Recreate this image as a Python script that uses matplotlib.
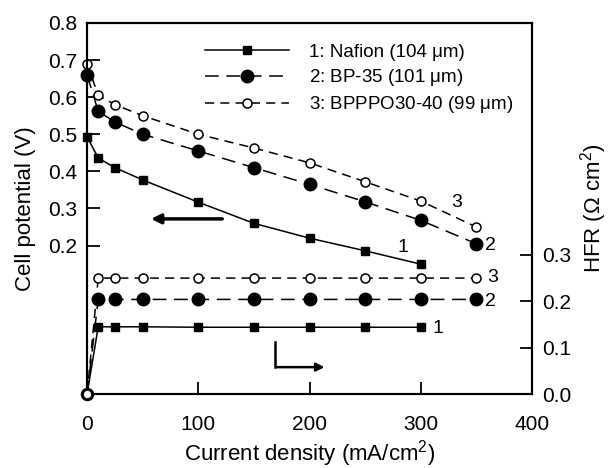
import numpy as np
import matplotlib.pyplot as plt

plt.rcParams['font.family'] = ['Liberation Sans', 'DejaVu Sans']
plt.rcParams['mathtext.fontset'] = 'custom'
plt.rcParams['mathtext.it'] = 'Liberation Sans:italic'
plt.rcParams['mathtext.rm'] = 'Liberation Sans'

# polarisation curves (left axis)
j_naf = [0, 10, 25, 50, 100, 150, 200, 250, 300]
v_naf = [0.493, 0.436, 0.41, 0.377, 0.317, 0.26, 0.22, 0.186, 0.15]
j_bp = [0, 10, 25, 50, 100, 150, 200, 250, 300, 350]
v_bp = [0.66, 0.562, 0.533, 0.50, 0.455, 0.41, 0.365, 0.318, 0.268, 0.205]
j_bppo = [0, 10, 25, 50, 100, 150, 200, 250, 300, 350]
v_bppo = [0.69, 0.605, 0.58, 0.55, 0.50, 0.463, 0.423, 0.372, 0.32, 0.25]

# high frequency resistance (right axis)
hfr_naf = [0.0, 0.145, 0.145, 0.145, 0.144, 0.144, 0.144, 0.144, 0.144]
hfr_bp = [0.0, 0.204, 0.204, 0.204, 0.204, 0.204, 0.204, 0.204, 0.204, 0.204]
hfr_bppo = [0.0, 0.25, 0.25, 0.25, 0.25, 0.25, 0.25, 0.25, 0.25, 0.25]

labels = ['1: Nafion (104 \u03bcm)',
          '2: BP-$\\mathit{35}$ (101 \u03bcm)',
          '3: BPPPO$\\mathit{30}$-$\\mathit{40}$ (99 \u03bcm)']

fig = plt.figure(figsize=(6.09, 4.68), dpi=100)
ax = fig.add_axes([0.143, 0.158, 0.7306, 0.793])
ax2 = ax.twinx()

lw = 1.1
s1 = dict(color='black', lw=lw, ls='-', marker='s', ms=6, mfc='black', mec='black', clip_on=False)
s2 = dict(color='black', lw=lw, ls=(0, (9, 5)), marker='o', ms=9, mfc='black', mec='black', clip_on=False)
s3 = dict(color='black', lw=lw, ls=(0, (6, 4)), marker='o', ms=6.5, mfc='white', mec='black', mew=1.1,
          clip_on=False)

h1, = ax.plot(j_naf, v_naf, zorder=5, **s1)
h2, = ax.plot(j_bp, v_bp, zorder=5, **s2)
h3, = ax.plot(j_bppo, v_bppo, zorder=5, **s3)

ax2.plot(j_naf, hfr_naf, markevery=list(range(1, len(j_naf))), zorder=5, **s1)
ax2.plot(j_bp, hfr_bp, markevery=list(range(1, len(j_bp))), zorder=5, **s2)
ax2.plot(j_bppo, hfr_bppo, markevery=list(range(1, len(j_bppo))), zorder=5, **s3)
# common origin of the HFR curves
ax2.plot(j_bppo[:1], hfr_bppo[:1], ls='none', marker='o', ms=7.5, mfc='white', mec='black',
         mew=2.2, clip_on=False, zorder=6)

ax.set_xlim(0, 400)
ax.set_ylim(-0.2, 0.8)
ax2.set_ylim(0, 0.8)
ax.set_xticks([0, 100, 200, 300, 400])
ax.set_yticks([0.2, 0.3, 0.4, 0.5, 0.6, 0.7, 0.8])
ax2.set_yticks([0.0, 0.1, 0.2, 0.3])
ax.set_yticklabels(['0.2', '0.3', '0.4', '0.5', '0.6', '0.7', '0.8'])
ax2.set_yticklabels(['0.0', '0.1', '0.2', '0.3'])

for a in (ax, ax2):
    a.tick_params(direction='in', length=9, width=1.3, labelsize=15, pad=7)
    for sp in a.spines.values():
        sp.set_linewidth(1.5)
ax.tick_params(axis='x', pad=15)

ax.set_xlabel('Current density (mA/cm$^2$)', fontsize=16, labelpad=3)
ax.set_ylabel('Cell potential (V)', fontsize=16, labelpad=9)
ax2.set_ylabel('HFR (\u03a9 cm$^2$)', fontsize=16, labelpad=5, rotation=90)

ax.legend([h1, h2, h3], labels, loc='upper left', bbox_to_anchor=(0.248, 0.964),
          frameon=False, fontsize=13.5, handlelength=4.5, handletextpad=1.05,
          labelspacing=0.33, borderaxespad=0)

# curve numbers
ax.text(284, 0.196, '1', fontsize=14, ha='center', va='center')
ax.text(363, 0.199, '2', fontsize=14, ha='center', va='center')
ax.text(332, 0.315, '3', fontsize=14, ha='center', va='center')
ax2.text(365, 0.252, '3', fontsize=14, ha='center', va='center')
ax2.text(363, 0.199, '2', fontsize=14, ha='center', va='center')
ax2.text(315, 0.142, '1', fontsize=14, ha='center', va='center')

# axis arrows
ax.annotate('', xy=(55, 0.272), xytext=(124, 0.272),
            arrowprops=dict(arrowstyle='-|>', lw=2.5, color='black', mutation_scale=14))
ax2.plot([169, 169], [0.112, 0.058], color='black', lw=1.8)
ax2.annotate('', xy=(216, 0.058), xytext=(168.5, 0.058),
             arrowprops=dict(arrowstyle='-|>', lw=1.8, color='black', mutation_scale=12))

fig.savefig('out.png', dpi=100)
